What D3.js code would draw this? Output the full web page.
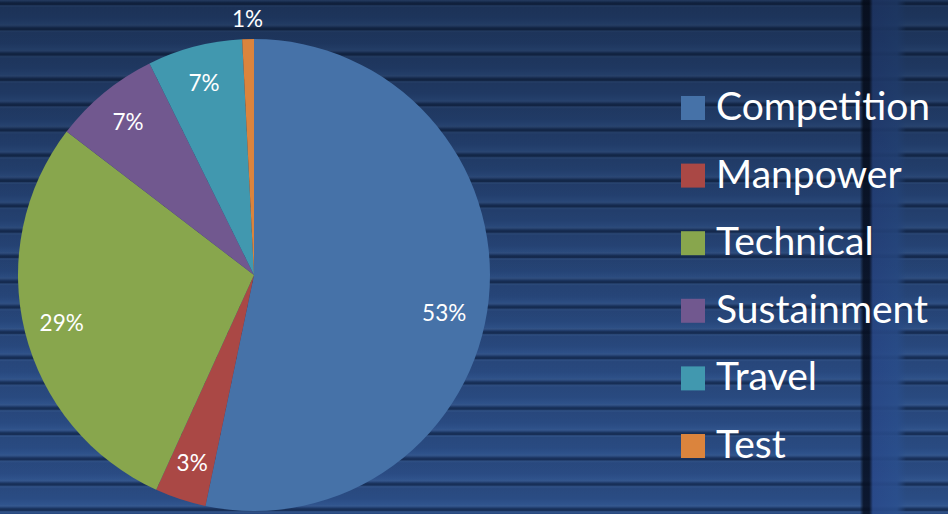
<!DOCTYPE html>
<html>
<head>
<meta charset="utf-8">
<script src="https://cdn.jsdelivr.net/npm/d3@7"></script>
<style>
  body { margin: 0; background: #213f6e; }
  svg { display: block; }
</style>
</head>
<body>
<svg id="chart"></svg>
<script>
const categories = ["Competition", "Manpower", "Technical", "Sustainment", "Travel", "Test"];
const shares = [53.3, 3.5, 28.6, 7.3, 6.5, 0.8];
const labels = ["53%", "3%", "29%", "7%", "7%", "1%"];
const colors = ["#4672a8", "#aa4845", "#88a64d", "#71588f", "#4198af", "#db843d"];

const width = 948;
const height = 514;

const svg = d3.select("#chart")
  .attr("width", width)
  .attr("height", height)
  .attr("viewBox", [0, 0, width, height]);

// roller-shutter background
const defs = svg.append("defs");

const slat = defs.append("linearGradient")
  .attr("id", "slat")
  .attr("x1", 0).attr("y1", 0).attr("x2", 0).attr("y2", 1);
[
  [0, "#172f58"], [0.07, "#172f58"], [0.11, "#36598f"], [0.16, "#29497f"],
  [0.6, "#2a4c84"], [0.84, "#30548e"], [0.88, "#37598f"], [0.95, "#223f70"], [1, "#172f58"]
].forEach(([o, c]) => slat.append("stop").attr("offset", o).attr("stop-color", c));

const pattern = defs.append("pattern")
  .attr("id", "shutter")
  .attr("patternUnits", "userSpaceOnUse")
  .attr("x", 0).attr("y", 3)
  .attr("width", width).attr("height", 25.3);
pattern.append("rect")
  .attr("width", width).attr("height", 25.3)
  .attr("fill", "url(#slat)");

const shade = defs.append("linearGradient")
  .attr("id", "shade")
  .attr("x1", 0).attr("y1", 0).attr("x2", 0).attr("y2", 1);
shade.append("stop").attr("offset", 0).attr("stop-color", "#000").attr("stop-opacity", 0.32);
shade.append("stop").attr("offset", 0.7).attr("stop-color", "#000").attr("stop-opacity", 0.04);
shade.append("stop").attr("offset", 1).attr("stop-color", "#000").attr("stop-opacity", 0);

const post = defs.append("linearGradient")
  .attr("id", "post")
  .attr("x1", 0).attr("y1", 0).attr("x2", 1).attr("y2", 0);
[
  [0, "#000", 0], [0.08, "#060e20", 0.85], [0.2, "#060e20", 0.85], [0.28, "#29498a", 0.9],
  [0.8, "#2a4f8e", 0.85], [1, "#2a4f8e", 0]
].forEach(([o, c, a]) => post.append("stop").attr("offset", o).attr("stop-color", c).attr("stop-opacity", a));

const bg = svg.append("g");
bg.append("rect").attr("width", width).attr("height", height).attr("fill", "url(#shutter)");
bg.append("rect").attr("x", 860).attr("width", 46).attr("height", height).attr("fill", "url(#post)");
bg.append("rect").attr("width", width).attr("height", height).attr("fill", "url(#shade)");

// pie
const cx = 254, cy = 275, radius = 236;

const pie = d3.pie().sort(null).value(d => d);
const arcs = pie(shares);

const arc = d3.arc().innerRadius(0).outerRadius(radius);
const labelArc = d3.arc().innerRadius(radius * 0.84).outerRadius(radius * 0.84);
const outsideArc = d3.arc().innerRadius(radius + 20).outerRadius(radius + 20);

const g = svg.append("g").attr("transform", `translate(${cx},${cy})`);

g.selectAll("path")
  .data(arcs)
  .join("path")
  .attr("d", arc)
  .attr("fill", (d, i) => colors[i]);

g.selectAll("text")
  .data(arcs)
  .join("text")
  .attr("transform", d => {
    const small = d.endAngle - d.startAngle < 0.1;
    const [x, y] = (small ? outsideArc : labelArc).centroid(d);
    // the big slice's label sits a little lower, as in the original
    return d.index === 0 ? `translate(${x - 7},${y + 18})` : `translate(${x},${y})`;
  })
  .attr("text-anchor", "middle")
  .attr("dy", "0.35em")
  .attr("fill", "#fff")
  .style("font-family", "Lato, 'Open Sans', sans-serif")
  .style("font-size", "22.5px")
  .text((d, i) => labels[i]);

// legend
const legendY = d3.scalePoint()
  .domain(categories)
  .range([108, 446]);

const legend = svg.append("g")
  .selectAll("g")
  .data(categories)
  .join("g")
  .attr("transform", d => `translate(681,${legendY(d)})`);

legend.append("rect")
  .attr("y", -12)
  .attr("width", 24)
  .attr("height", 24)
  .attr("fill", (d, i) => colors[i]);

legend.append("text")
  .attr("x", 35)
  .attr("y", 12)
  .attr("fill", "#fff")
  .style("font-family", "Lato, 'Open Sans', sans-serif")
  .style("font-size", "39px")
  .text(d => d);
</script>
</body>
</html>
